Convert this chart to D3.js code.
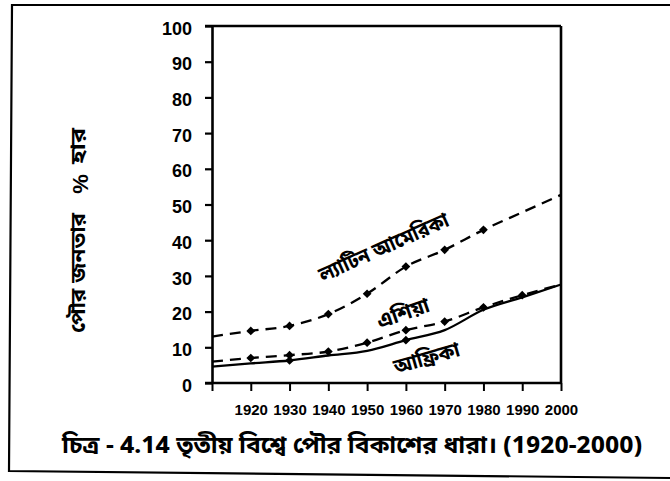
<!DOCTYPE html>
<html>
<head>
<meta charset="utf-8">
<script src="https://cdn.jsdelivr.net/npm/d3@7"></script>
<style>
  html, body { margin: 0; padding: 0; background: #fff; }
  svg { display: block; }
  .num { font-family: "Liberation Sans Narrow", "Liberation Sans", Arial, sans-serif; font-weight: bold; fill: #000; }
  .bn { font-family: "Noto Sans Bengali", "Lohit Bengali", "Vrinda", "FreeSans", "Noto Sans", sans-serif; font-weight: bold; fill: #000; }
</style>
</head>
<body>
<svg id="chart" width="670" height="481"></svg>
<script>
// Urban population share (%) in the Third World, 1910-2000
const years = [1910, 1920, 1930, 1940, 1950, 1960, 1970, 1980, 1990, 2000];
const latinAmerica = [13, 14.6, 16, 19.3, 25, 32.6, 37.3, 42.9, 47.8, 52.7];
const asia = [6, 7, 7.8, 8.8, 11.3, 14.8, 17.2, 21.2, 24.6, 27.6];
const africa = [4.6, 5.5, 6.3, 7.7, 9, 12, 14.8, 20.5, 24, 27.6];

// years carrying a point marker on each line
const latinMarks = [1920, 1930, 1940, 1950, 1960, 1970, 1980];
const asiaMarks = [1920, 1930, 1940, 1950, 1960, 1970, 1980, 1990];
const africaMarks = [1930, 1960];

const yTicks = [0, 10, 20, 30, 40, 50, 60, 70, 80, 90, 100];
const xTicks = [1910, 1920, 1930, 1940, 1950, 1960, 1970, 1980, 1990, 2000];

const seriesNames = ["ল্যাটিন আমেরিকা", "এশিয়া", "আফ্রিকা"];
const yTitleParts = ["পৌর জনতার", "%", "হার"];
const caption = "চিত্র - 4.14  তৃতীয় বিশ্বে পৌর বিকাশের ধারা। (1920-2000)";

const svg = d3.select("#chart");

// outer frame of the figure
svg.append("path")
  .attr("d", "M672,5 H12 L9,471 L672,478")
  .attr("fill", "none").attr("stroke", "#000").attr("stroke-width", 2.2);

const x = d3.scaleLinear().domain([1910, 2000]).range([212, 561]);
const y = d3.scaleLinear().domain([0, 100]).range([383, 26]);

// left axis
const gy = svg.append("g").attr("transform", `translate(${x(1910)},0)`)
  .call(d3.axisLeft(y).tickValues(yTicks).tickSize(7).tickPadding(13).tickSizeOuter(0));
gy.select(".domain").attr("stroke-width", 2.6);
gy.selectAll(".tick line").attr("stroke-width", 2.2);
gy.selectAll(".tick text").attr("class", "num").attr("font-size", 18).attr("dy", "0.45em");

// bottom axis
const gx = svg.append("g").attr("transform", `translate(0,${y(0)})`)
  .call(d3.axisBottom(x).tickValues(xTicks).tickSize(8).tickPadding(13).tickSizeOuter(0)
    .tickFormat(d => d === 1910 ? "" : d));
gx.select(".domain").attr("stroke-width", 2.6)
  .attr("d", `M${x(1910) - 7},0H${x(2000)}`);
gx.selectAll(".tick line").attr("stroke-width", 2);
gx.selectAll(".tick text").attr("class", "num").attr("font-size", 15);

// top and right frame of the plot
svg.append("line")
  .attr("x1", x(1910) - 7).attr("x2", x(2000)).attr("y1", y(100)).attr("y2", y(100))
  .attr("stroke", "#000").attr("stroke-width", 2.4);
svg.append("line")
  .attr("x1", x(2000)).attr("x2", x(2000)).attr("y1", y(100)).attr("y2", y(0))
  .attr("stroke", "#000").attr("stroke-width", 2.6);

const line = d3.line()
  .x((d, i) => x(years[i]))
  .y(d => y(d))
  .curve(d3.curveMonotoneX);

const series = [
  { values: latinAmerica, marks: latinMarks, dash: "11,7" },
  { values: asia, marks: asiaMarks, dash: "11,7" },
  { values: africa, marks: africaMarks, dash: null }
];

series.forEach(s => {
  svg.append("path")
    .attr("d", line(s.values))
    .attr("fill", "none")
    .attr("stroke", "#000")
    .attr("stroke-width", 2.3)
    .attr("stroke-dasharray", s.dash);
  svg.selectAll(null)
    .data(s.marks)
    .enter().append("path")
    .attr("d", d3.symbol(d3.symbolDiamond, 34))
    .attr("transform", d => `translate(${x(d)},${y(s.values[years.indexOf(d)])}) scale(1.4,0.8)`)
    .attr("fill", "#000");
});

// series labels along the lines
const labelPos = [
  { cx: 1954.5, cy: 37.5, rot: -24, len: 140 },
  { cx: 1959.5, cy: 19, rot: -19, len: 54 },
  { cx: 1965.5, cy: 6.4, rot: -16, len: 68 }
];
seriesNames.forEach((name, i) => {
  const p = labelPos[i];
  svg.append("text")
    .attr("class", "bn")
    .attr("font-size", 21)
    .attr("text-anchor", "middle")
    .attr("dominant-baseline", "central")
    .attr("textLength", p.len)
    .attr("lengthAdjust", "spacingAndGlyphs")
    .attr("transform", `translate(${x(p.cx)},${y(p.cy)}) rotate(${p.rot})`)
    .text(name);
});

// rotated y-axis title
const titleParts = [
  { cy: 273, size: 21, len: 120 },
  { cy: 184, size: 22, len: null },
  { cy: 146, size: 21, len: 36 }
];
yTitleParts.forEach((t, i) => {
  const p = titleParts[i];
  const el = svg.append("text")
    .attr("class", t === "%" ? "num" : "bn")
    .attr("font-size", p.size)
    .attr("text-anchor", "middle")
    .attr("dominant-baseline", "central")
    .attr("transform", `translate(80,${p.cy}) rotate(-90)`)
    .text(t);
  if (p.len) el.attr("textLength", p.len).attr("lengthAdjust", "spacingAndGlyphs");
});

// figure caption
svg.append("text")
  .attr("class", "bn")
  .attr("x", 62).attr("y", 453)
  .attr("font-size", 23)
  .attr("textLength", 580)
  .attr("lengthAdjust", "spacingAndGlyphs")
  .text(caption);
</script>
</body>
</html>
